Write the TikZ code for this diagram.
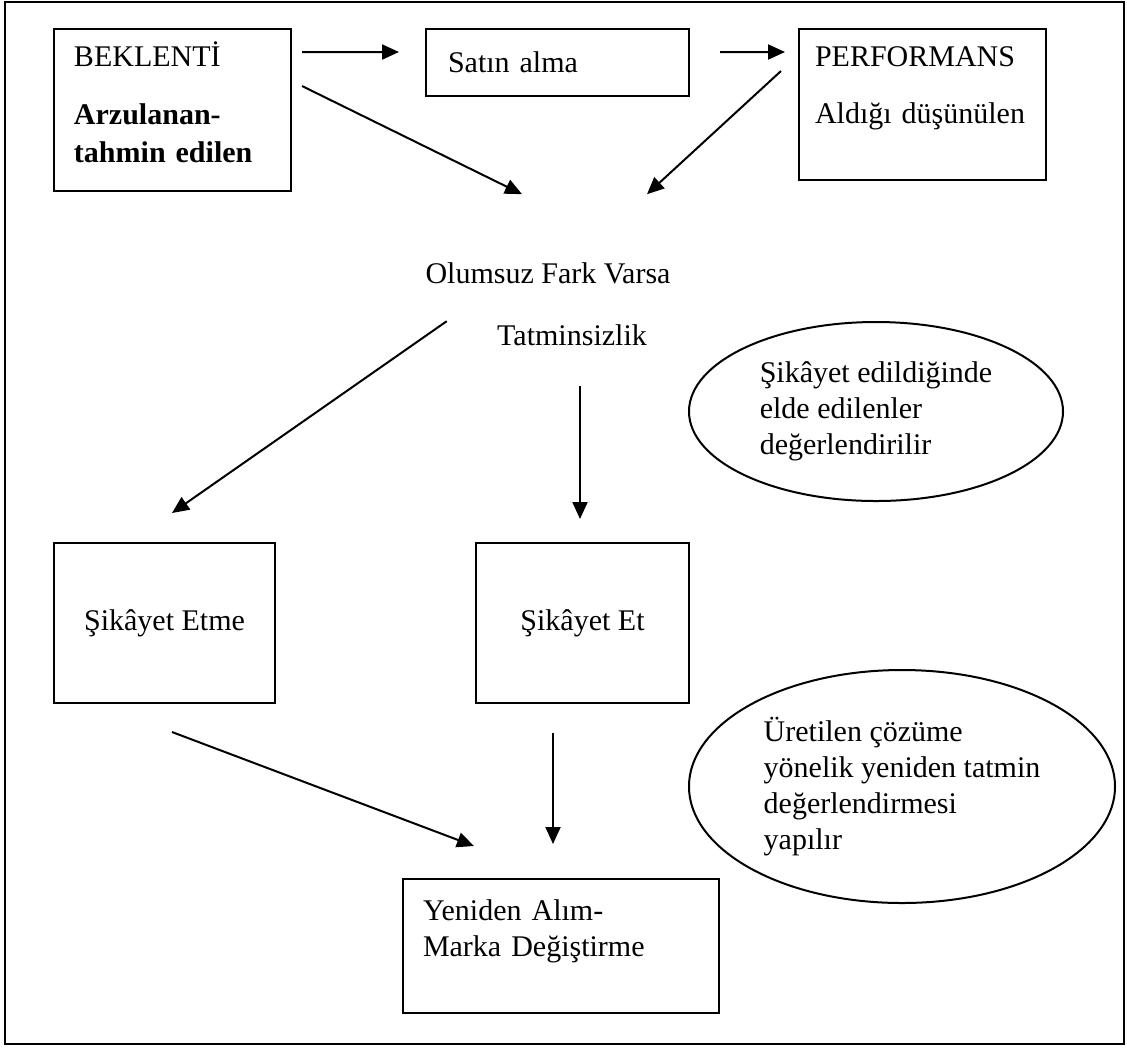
\documentclass[tikz,border=0pt]{standalone}
\usepackage{fontspec}
\setmainfont{Liberation Serif}
\usetikzlibrary{arrows.meta,shapes.geometric,calc}

\begin{document}
\begin{tikzpicture}[x=0.4pt, y=-0.4pt, font=\fontsize{12}{14.4}\selectfont]
		\tikzstyle{box} = [rectangle, draw=black, line width=0.8pt, align=left]
		\tikzstyle{bubble} = [ellipse, draw=black, line width=0.8pt, align=left, inner sep=0pt]
		\tikzstyle{plain} = [inner sep=0pt, anchor=base]
		\tikzstyle{arrow} = [line width=0.8pt, -{Triangle[length=6.8pt, width=6pt]}]
		\useasboundingbox (0,0) rectangle (1127,1049);
		\draw [line width=0.8pt] (5,2) rectangle (1124,1044);
		% top row
		\node (beklenti) [box, minimum width=94.8pt, minimum height=64.8pt, inner xsep=8pt, text width=78.8pt] at (172.5,110) {BEKLENTİ\\[8.8pt]\textbf{Arzulanan-}\\[0.8pt]\textbf{tahmin edilen}\\[-8pt]\mbox{}};
		\node (satinAlma) [box, minimum width=105.2pt, minimum height=26.8pt, inner xsep=8.8pt, text width=87.6pt] at (557.5,62.5) {Satın alma};
		\node (performans) [box, minimum width=98.8pt, minimum height=60.4pt, inner xsep=6.4pt, text width=86pt] at (922.5,104.5) {PERFORMANS\\[8.4pt]Aldığı düşünülen\\[0.8pt]\mbox{}};
		% middle
		\node (olumsuzFark) [plain] at (548,283) {Olumsuz Fark Varsa};
		\node (tatminsizlik) [plain] at (572,345) {Tatminsizlik};
		\node (kazanimlar) [bubble, minimum width=149.6pt, minimum height=71.6pt] at (876,411.5) {Şikâyet edildiğinde\\elde edilenler\\değerlendirilir};
		% bottom
		\node (sikayetEtme) [box, align=center, minimum width=88.4pt, minimum height=64pt] at (164.5,623) {Şikâyet Etme};
		\node (sikayetEt) [box, align=center, minimum width=85.2pt, minimum height=64pt] at (582.5,623) {Şikâyet Et};
		\node (cozumDegerlendirme) [bubble, minimum width=170.4pt, minimum height=93.2pt] at (902,786.5) {Üretilen çözüme\\yönelik yeniden tatmin\\değerlendirmesi\\yapılır};
		\node (yenidenAlim) [box, minimum width=126.4pt, minimum height=53.6pt, inner xsep=8pt, text width=110.4pt] at (561,946) {Yeniden Alım-\\Marka Değiştirme\\[-0.4pt]\mbox{}};
		\draw [arrow] ([shift={(10,24)}]beklenti.north east) -- ([shift={(-26,24)}]satinAlma.north west);
		\draw [arrow] ([shift={(30,24)}]satinAlma.north east) -- ([shift={(-13,24)}]performans.north west);
		\draw [arrow] ([shift={(10,58)}]beklenti.north east) -- ([shift={(-26,-67.5)}]olumsuzFark.north);
		\draw [arrow] ([shift={(-17,43)}]performans.north west) -- ([shift={(99,-67.5)}]olumsuzFark.north);
		\draw [arrow] ([shift={(-50,-2.5)}]tatminsizlik.north west) -- ([shift={(7.5,-29)}]sikayetEtme.north);
		\draw [arrow] ([shift={(8,40)}]tatminsizlik.south) -- ([shift={(-2.5,-23)}]sikayetEt.north);
		\draw [arrow] ([shift={(7.5,28)}]sikayetEtme.south) -- ([shift={(72,-32)}]yenidenAlim.north west);
		\draw [arrow] ([shift={(-29.5,29)}]sikayetEt.south) -- ([shift={(-8,-34)}]yenidenAlim.north);
\end{tikzpicture}
\end{document}
